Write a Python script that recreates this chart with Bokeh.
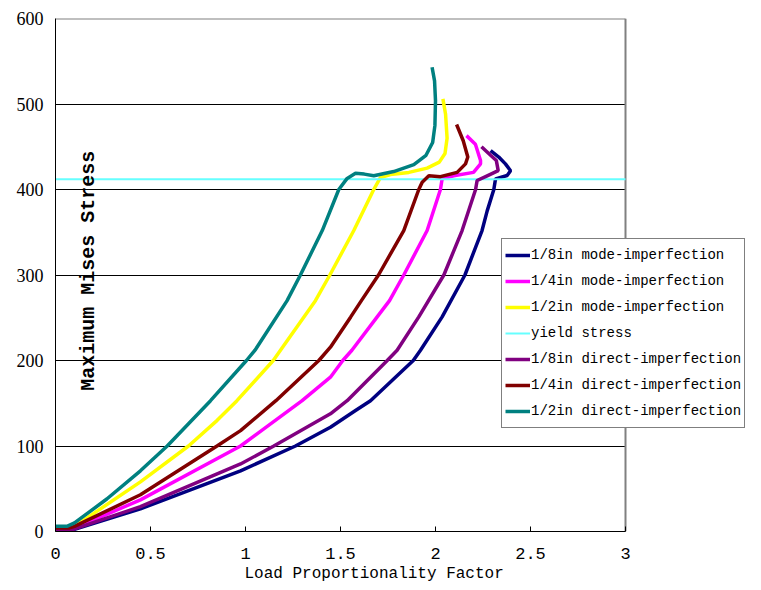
import math
from bokeh.plotting import figure
from bokeh.models import Range1d, FixedTicker, Label, Legend, LegendItem, Title
from bokeh.embed import file_html
from bokeh.resources import INLINE

# ---------------- data ----------------
x_ticks = [0, 0.5, 1, 1.5, 2, 2.5, 3]
x_tick_labels = ["0", "0.5", "1", "1.5", "2", "2.5", "3"]
y_ticks = [0, 100, 200, 300, 400, 500, 600]

mode_18_x = [0, 0.07, 0.1, 0.447, 0.974, 1.263, 1.447, 1.579, 1.658, 1.883, 1.921, 2.035, 2.155, 2.245, 2.272, 2.307, 2.316, 2.377, 2.395, 2.368, 2.333, 2.29]
mode_18_y = [1, 1, 2.5, 26.5, 71, 100, 122, 141.5, 153, 200, 212, 251, 300, 352, 375, 400, 412.5, 416.4, 422, 430, 438, 445.6]

mode_14_x = [0, 0.07, 0.1, 0.447, 0.974, 1.298, 1.447, 1.512, 1.56, 1.693, 1.758, 1.833, 1.956, 2.026, 2.035, 2.096, 2.2, 2.237, 2.237, 2.21, 2.163]
mode_14_y = [2, 2, 4, 37, 100, 153, 180.5, 200, 212, 251, 270, 300, 352, 400, 412.5, 416, 420, 430, 434, 453, 463]

mode_12_x = [0, 0.07, 0.1, 0.447, 0.70, 0.851, 0.955, 1.146, 1.184, 1.368, 1.444, 1.57, 1.675, 1.71, 1.763, 1.86, 1.956, 2.02, 2.05, 2.061, 2.053, 2.039]
mode_12_y = [2, 3, 6, 58, 100, 130, 153, 200, 212, 270, 300, 352, 400, 414, 417.5, 420, 425, 432, 442, 460, 488, 506]

yield_x = [0, 3]
yield_y = [412, 412]

direct_18_x = [0, 0.07, 0.1, 0.447, 0.974, 1.149, 1.447, 1.535, 1.746, 1.798, 1.912, 2.044, 2.14, 2.211, 2.219, 2.272, 2.33, 2.32, 2.29, 2.242]
direct_18_y = [1, 1.5, 3, 29, 79, 100, 137.6, 153, 200, 212, 251, 300, 352, 400, 410.5, 416, 422, 434, 440, 450]

direct_14_x = [0, 0.07, 0.1, 0.447, 0.85, 0.974, 1.16, 1.386, 1.447, 1.553, 1.61, 1.70, 1.833, 1.912, 1.93, 1.965, 2.026, 2.114, 2.158, 2.17, 2.146, 2.111]
direct_14_y = [4, 4, 6, 43, 100, 118, 153, 200, 215.6, 250.7, 270, 300, 352, 400, 408.6, 416, 415, 420, 430, 438, 457, 476]

direct_12_x = [0, 0.06, 0.1, 0.27, 0.447, 0.588, 0.816, 1.005, 1.05, 1.219, 1.289, 1.404, 1.491, 1.535, 1.579, 1.625, 1.675, 1.78, 1.886, 1.95, 1.985, 1.997, 2.0, 1.995, 1.982]
direct_12_y = [6, 6, 10, 38, 71, 100, 153, 200, 212, 270, 300, 352, 400, 413, 419, 418, 416, 421, 429, 440, 455, 475, 504, 527, 543]

series = [
    ("1/8in mode-imperfection", mode_18_x, mode_18_y, "#000080", 3.5),
    ("1/4in mode-imperfection", mode_14_x, mode_14_y, "#FF00FF", 3.5),
    ("1/2in mode-imperfection", mode_12_x, mode_12_y, "#FFFF00", 3.5),
    ("yield stress", yield_x, yield_y, "#66FFFF", 2),
    ("1/8in direct-imperfection", direct_18_x, direct_18_y, "#800080", 3.5),
    ("1/4in direct-imperfection", direct_14_x, direct_14_y, "#800000", 3.5),
    ("1/2in direct-imperfection", direct_12_x, direct_12_y, "#008080", 3.5),
]

X_MIN, X_MAX = x_ticks[0], x_ticks[-1]
Y_MIN, Y_MAX = y_ticks[0], y_ticks[-1]
PX_PER_UNIT = 190.0
FRAME_W = 692
x_view_end = FRAME_W / PX_PER_UNIT  # frame extends to hold the legend

# ---------------- figure ----------------
p = figure(width=747, height=590, output_backend="svg", toolbar_location=None,
           x_range=Range1d(0, x_view_end), y_range=Range1d(Y_MIN, Y_MAX),
           min_border_left=55, min_border_right=0, min_border_top=18, min_border_bottom=59)
p.background_fill_color = "white"
p.border_fill_color = "white"
p.outline_line_color = None

p.xgrid.grid_line_color = None
p.ygrid.ticker = FixedTicker(ticks=y_ticks[1:-1])
p.ygrid.grid_line_color = "black"
p.ygrid.grid_line_width = 1

# white mask hides the grid to the right of x = 3 (legend area outside the chart)
p.quad(left=[X_MAX], right=[x_view_end], bottom=[Y_MIN], top=[Y_MAX],
       fill_color="white", line_color=None)
# grey border of the plot area (top and right)
p.segment(x0=[X_MIN, X_MAX], x1=[X_MAX, X_MAX], y0=[Y_MAX, Y_MIN],
          y1=[Y_MAX, Y_MAX], line_color="#808080", line_width=2)

p.xaxis.ticker = FixedTicker(ticks=x_ticks)
p.xaxis.bounds = (X_MIN, X_MAX)
p.xaxis.major_label_overrides = {t: l for t, l in zip(x_ticks, x_tick_labels)}
p.xaxis.minor_tick_line_color = None
p.xaxis.major_tick_in = 5
p.xaxis.major_tick_out = 0
p.xaxis.axis_line_color = "black"
p.xaxis.major_tick_line_color = "black"
p.xaxis.major_label_text_font = "Liberation Mono"
p.xaxis.major_label_text_font_size = "17px"
p.xaxis.major_label_text_color = "black"
p.xaxis.major_label_standoff = 16

p.yaxis.ticker = FixedTicker(ticks=y_ticks)
p.yaxis.minor_tick_line_color = None
p.yaxis.major_tick_in = 0
p.yaxis.major_tick_out = 0
p.yaxis.axis_line_color = "black"
p.yaxis.major_label_text_font = "Liberation Serif"
p.yaxis.major_label_text_font_size = "18px"
p.yaxis.major_label_text_color = "black"
p.yaxis.major_label_standoff = 12

items = []
for name, xs, ys, col, lw in series:
    r = p.line(xs, ys, line_color=col, line_width=lw)
    items.append(LegendItem(label=name, renderers=[r]))

legend = Legend(items=items, location=(446, 103))
legend.label_text_font = "Liberation Mono"
legend.label_text_font_size = "14px"
legend.label_text_color = "black"
legend.glyph_width = 25
legend.glyph_height = 26
legend.label_height = 26
legend.label_standoff = 1
legend.spacing = 0
legend.padding = 3
legend.margin = 0
legend.border_line_color = "black"
legend.border_line_width = 1
legend.background_fill_color = "white"
legend.background_fill_alpha = 1
p.add_layout(legend, "center")

x_title = Title(text="Load Proportionality Factor", align="left", offset=189,
                text_font="Liberation Mono", text_font_size="16px",
                text_font_style="normal", text_color="black", standoff=2)
p.add_layout(x_title, "below")

p.add_layout(Label(x=0.174, y=305, text="Maximum Mises Stress", angle=math.pi / 2,
                   text_font="Liberation Mono", text_font_size="20px", text_font_style="bold",
                   text_align="center", text_baseline="middle", text_color="black"))

open("out.html", "w").write(file_html(p, INLINE))
